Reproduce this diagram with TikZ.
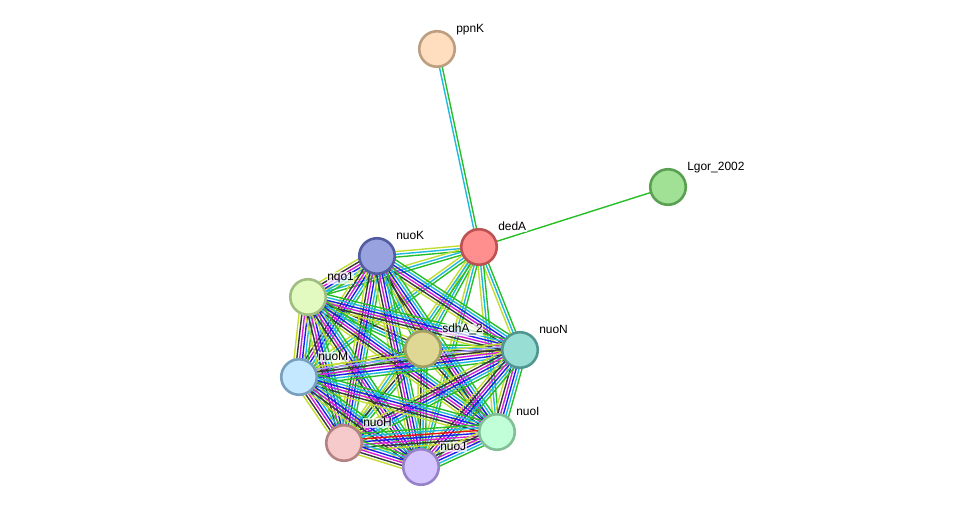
\documentclass[tikz,border=0pt]{standalone}
\usepackage{fontspec}
\setmainfont{Liberation Sans}
\usetikzlibrary{calc,backgrounds}

% evidence colours
\definecolor{lnb}{RGB}{40,190,40}
\definecolor{ldb}{RGB}{30,185,220}
\definecolor{lco}{RGB}{30,30,235}
\definecolor{lex}{RGB}{215,30,215}
\definecolor{lcx}{RGB}{55,55,55}
\definecolor{ltm}{RGB}{195,220,50}
\definecolor{lho}{RGB}{165,160,250}
\definecolor{lfu}{RGB}{235,20,20}
% protein colours (fill / border)
\definecolor{ppnKf}{RGB}{255,222,192}\definecolor{ppnKd}{RGB}{190,158,128}
\definecolor{lgorf}{RGB}{160,225,150}\definecolor{lgord}{RGB}{90,160,82}
\definecolor{dedAf}{RGB}{255,142,142}\definecolor{dedAd}{RGB}{190,82,82}
\definecolor{nuoKf}{RGB}{152,162,222}\definecolor{nuoKd}{RGB}{82,92,160}
\definecolor{nqof}{RGB}{226,250,192}\definecolor{nqod}{RGB}{160,190,130}
\definecolor{sdhAf}{RGB}{222,216,148}\definecolor{sdhAd}{RGB}{160,160,100}
\definecolor{nuoNf}{RGB}{152,222,212}\definecolor{nuoNd}{RGB}{82,150,145}
\definecolor{nuoMf}{RGB}{196,232,255}\definecolor{nuoMd}{RGB}{120,160,190}
\definecolor{nuoHf}{RGB}{246,202,202}\definecolor{nuoHd}{RGB}{180,130,130}
\definecolor{nuoIf}{RGB}{192,255,216}\definecolor{nuoId}{RGB}{130,190,150}
\definecolor{nuoJf}{RGB}{212,196,255}\definecolor{nuoJd}{RGB}{150,130,200}

% bundle of parallel lines between two proteins
\newcommand\bundle[3]{%
  \foreach \col [count=\k] in {#3}{\xdef\nlines{\k}}%
  \foreach \col [count=\k] in {#3}{%
    \pgfmathsetmacro\off{(\k-(\nlines+1)/2)*0.028}%
    \draw[link, \col] ($(#1.center)!\off cm!90:(#2.center)$) -- ($(#2.center)!\off cm!-90:(#1.center)$);
  }%
}

\begin{document}
\begin{tikzpicture}[
  x=0.01cm, y=-0.01cm,
  prot/.style={circle, minimum size=0.355cm, inner sep=0pt,
               line width=0.026cm, fill=#1f, draw=#1d},
  tag/.style={anchor=base west, inner sep=0.15pt, xshift=1.3pt, yshift=0.75pt,
              fill=white, fill opacity=0.7, text opacity=1,
              font=\fontsize{3.4}{4}\selectfont},
  link/.style={line width=0.014cm}
]
\useasboundingbox (0,0) rectangle (976,513);

\node[prot=ppnK, label={[tag]45:ppnK}] (ppnK) at (437,49) {};
\node[prot=lgor, label={[tag]45:Lgor\_2002}] (lgor) at (668,187) {};
\node[prot=dedA, label={[tag]45:dedA}] (dedA) at (479,247) {};
\node[prot=nuoK, label={[tag]45:nuoK}] (nuoK) at (377,256) {};
\node[prot=nqo, label={[tag]45:nqo1}] (nqo) at (308,297) {};
\node[prot=sdhA, label={[tag]45:sdhA\_2}] (sdhA) at (423,349) {};
\node[prot=nuoN, label={[tag]45:nuoN}] (nuoN) at (520,350) {};
\node[prot=nuoM, label={[tag]45:nuoM}] (nuoM) at (299,377) {};
\node[prot=nuoH, label={[tag]45:nuoH}] (nuoH) at (344,443) {};
\node[prot=nuoI, label={[tag]45:nuoI}] (nuoI) at (497,432) {};
\node[prot=nuoJ, label={[tag]45:nuoJ}] (nuoJ) at (421,467) {};

\begin{scope}[on background layer]
% dedA
\bundle{ppnK}{dedA}{ldb,lnb}
\bundle{dedA}{lgor}{lnb}
\bundle{dedA}{nuoK}{ltm,ldb,lnb}
\bundle{dedA}{nqo}{ltm,ldb,lnb}
\bundle{dedA}{sdhA}{ltm,ldb,lnb}
\bundle{dedA}{nuoN}{ltm,ldb,lnb}
\bundle{dedA}{nuoM}{ltm,ldb,lnb}
\bundle{dedA}{nuoH}{ltm,ldb,lnb}
\bundle{dedA}{nuoI}{ltm,ldb,lnb}
\bundle{dedA}{nuoJ}{ltm,ldb,lnb}
% sdhA_2
\bundle{sdhA}{nuoK}{ltm,lcx,ldb,lnb}
\bundle{sdhA}{nqo}{ltm,lcx,ldb,lnb}
\bundle{sdhA}{nuoN}{ltm,lcx,ldb,lnb}
\bundle{sdhA}{nuoM}{ltm,lcx,ldb,lnb}
\bundle{sdhA}{nuoH}{ltm,lcx,ldb,lnb}
\bundle{sdhA}{nuoI}{ltm,lcx,ldb,lnb}
\bundle{sdhA}{nuoJ}{ltm,lcx,ldb,lnb}
% nuo complex
\bundle{nuoK}{nqo}{ltm,lcx,lex,lco,ldb,lnb}
\bundle{nuoK}{nuoN}{ltm,lcx,lex,lco,ldb,lnb}
\bundle{nuoK}{nuoM}{ltm,lcx,lex,lco,ldb,lnb}
\bundle{nuoK}{nuoH}{ltm,lcx,lex,lco,ldb,lnb}
\bundle{nuoK}{nuoI}{ltm,lcx,lex,lco,ldb,lnb}
\bundle{nuoK}{nuoJ}{ltm,lcx,lex,lco,ldb,lnb}
\bundle{nqo}{nuoN}{ltm,lcx,lex,lco,ldb,lnb}
\bundle{nqo}{nuoM}{ltm,lcx,lex,lco,ldb,lnb}
\bundle{nqo}{nuoH}{ltm,lcx,lex,lco,ldb,lnb}
\bundle{nqo}{nuoI}{ltm,lcx,lex,lco,ldb,lnb}
\bundle{nqo}{nuoJ}{ltm,lcx,lex,lco,ldb,lnb}
\bundle{nuoN}{nuoM}{ltm,lho,lcx,lex,lco,ldb,lnb}
\bundle{nuoN}{nuoH}{ltm,lcx,lex,lco,ldb,lnb}
\bundle{nuoN}{nuoI}{ltm,lcx,lex,lco,ldb,lnb}
\bundle{nuoN}{nuoJ}{ltm,lcx,lex,lco,ldb,lnb}
\bundle{nuoM}{nuoH}{ltm,lcx,lex,lco,ldb,lnb}
\bundle{nuoM}{nuoI}{ltm,lcx,lex,lco,ldb,lnb}
\bundle{nuoM}{nuoJ}{ltm,lcx,lex,lco,ldb,lnb}
\bundle{nuoH}{nuoI}{ltm,lcx,lex,lco,lfu,ldb,lnb}
\bundle{nuoH}{nuoJ}{ltm,lcx,lex,lco,ldb,lnb}
\bundle{nuoI}{nuoJ}{ltm,lcx,lex,lco,ldb,lnb}
\end{scope}
\end{tikzpicture}
\end{document}
